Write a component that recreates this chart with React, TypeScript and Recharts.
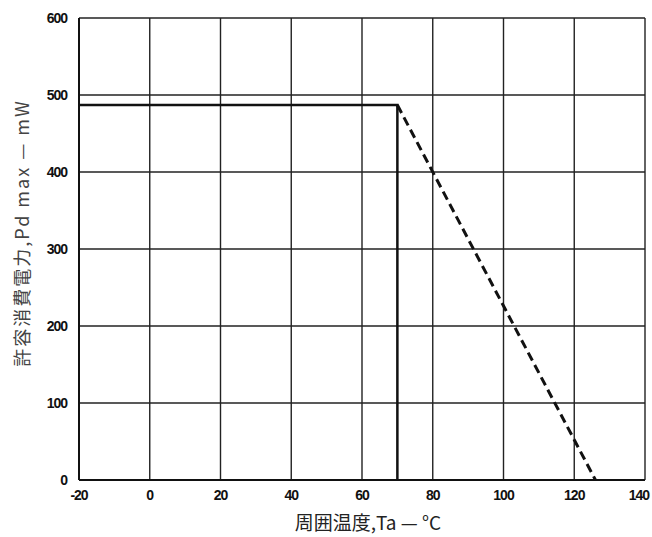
import { LineChart, Line, XAxis, YAxis, CartesianGrid, Label } from 'recharts';

const xTicks = [-20, 0, 20, 40, 60, 80, 100, 120, 140];
const yTicks = [0, 100, 200, 300, 400, 500, 600];

// 許容消費電力 (solid): flat up to 70°C, then drops
const ratedTemp = [-20, 70, 70];
const ratedPd = [487, 487, 0];

// derating (dashed)
const derateTemp = [70, 126];
const deratePd = [487, 0];

const ratedData = ratedTemp.map((t, i) => ({ t, pd: ratedPd[i] }));
const derateData = derateTemp.map((t, i) => ({ t, pd: deratePd[i] }));

const tickStyle = {
  fontSize: 14,
  fontWeight: 700,
  fill: '#111',
  fontFamily: 'Liberation Sans, sans-serif',
  letterSpacing: -1,
};

// last x tick sits on the page edge, so pull it inside
function XTick(props: any) {
  const { x, y, payload } = props;
  const last = payload.value === 140;
  return (
    <text
      x={last ? x + 4 : x}
      y={y + 12}
      textAnchor={last ? 'end' : 'middle'}
      style={tickStyle}
    >
      {payload.value}
    </text>
  );
}

export default function App() {
  return (
    <div style={{ position: 'absolute', left: 0, top: 0, background: '#fff' }}>
      <LineChart
        width={652}
        height={537}
        margin={{ top: 18, right: 7, bottom: 27, left: 37 }}
      >
        <CartesianGrid stroke="#222" strokeWidth={1.4} />
        <XAxis
          type="number"
          dataKey="t"
          domain={[-20, 140]}
          ticks={xTicks}
          interval={0}
          allowDuplicatedCategory={false}
          height={30}
          stroke="#111"
          strokeWidth={2}
          tickLine={false}
          tick={<XTick />}
        >
          <Label
            value="周囲温度,Ta — °C"
            position="insideBottom"
            offset={-20}
            dx={6}
            style={{ fontSize: 19, fill: '#222', fontFamily: 'Noto Sans CJK JP, sans-serif' }}
          />
        </XAxis>
        <YAxis
          type="number"
          dataKey="pd"
          domain={[0, 600]}
          ticks={yTicks}
          interval={0}
          width={42}
          stroke="#111"
          strokeWidth={2}
          tickLine={false}
          tick={tickStyle}
          tickMargin={6}
        >
          <Label
            value="許容消費電力,Pd max — mW"
            angle={-90}
            position="insideLeft"
            offset={-14}
            dy={-16}
            style={{
              fontSize: 18,
              letterSpacing: 2,
              fill: '#444',
              fontFamily: 'Noto Sans CJK JP, sans-serif',
              textAnchor: 'middle',
            }}
          />
        </YAxis>
        <Line
          data={ratedData}
          dataKey="pd"
          stroke="#111"
          strokeWidth={2.5}
          dot={false}
          isAnimationActive={false}
        />
        <Line
          data={derateData}
          dataKey="pd"
          stroke="#111"
          strokeWidth={3}
          strokeDasharray="9 5"
          dot={false}
          isAnimationActive={false}
        />
      </LineChart>
    </div>
  );
}
